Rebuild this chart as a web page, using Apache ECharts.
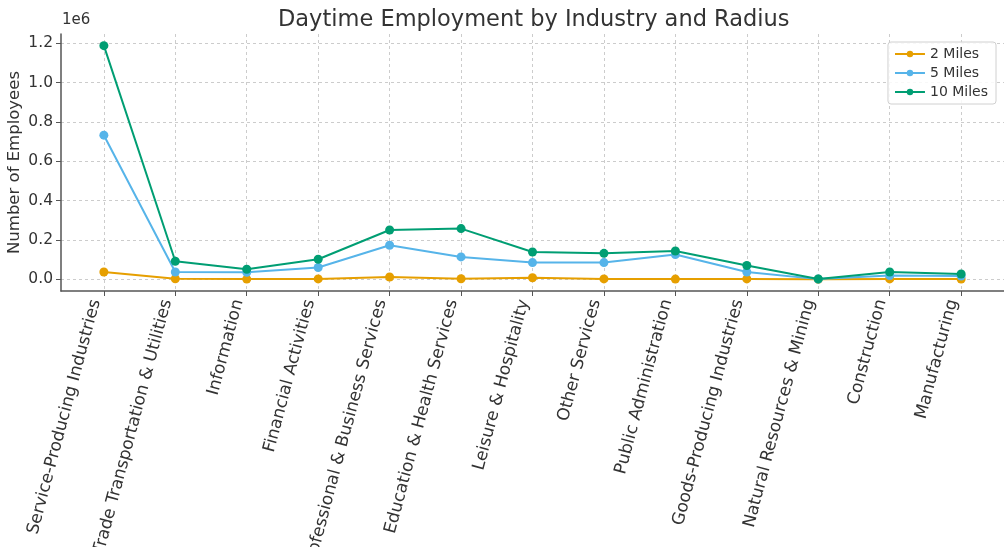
<!DOCTYPE html>
<html><head><meta charset="utf-8">
<script src="https://cdn.jsdelivr.net/npm/echarts@6/dist/echarts.min.js"></script>
<style>html,body{margin:0;padding:0;background:#fff}#c{width:1004px;height:547px}</style>
</head><body><div id="c"></div>
<script>
const categories = ["Service-Producing Industries","Trade Transportation & Utilities","Information","Financial Activities","Professional & Business Services","Education & Health Services","Leisure & Hospitality","Other Services","Public Administration","Goods-Producing Industries","Natural Resources & Mining","Construction","Manufacturing"];
const miles2  = [37000, 3000, 1000, 2000, 12000, 3000, 8000, 2000, 1000, 2000, 500, 2000, 1000];
const miles5  = [733000, 37000, 36000, 60000, 173000, 114000, 85000, 85000, 126000, 37000, 1000, 19000, 17000];
const miles10 = [1188000, 92000, 51000, 102000, 251000, 258000, 139000, 132000, 144000, 70000, 2000, 37000, 27000];
const seriesNames = ["2 Miles","5 Miles","10 Miles"];
const yTicks = [0, 200000, 400000, 600000, 800000, 1000000, 1200000];
const xTicks = categories.map((_, i) => i);

const colors = ["#E69F00", "#56B4E9", "#009E73"];
const font = "DejaVu Sans";
const allData = [miles2, miles5, miles10];

const chart = echarts.init(document.getElementById('c'), null, {renderer: 'canvas'});
chart.setOption({
  animation: false,
  backgroundColor: '#fff',
  color: colors,
  textStyle: {fontFamily: font},
  title: {
    text: 'Daytime Employment by Industry and Radius',
    left: 273, top: 4,
    textStyle: {fontFamily: font, fontSize: 22.5, fontWeight: 'normal', color: '#333'}
  },
  graphic: [{
    type: 'text', left: 62, top: 13,
    style: {text: '1e6', fontFamily: font, fontSize: 15, fill: '#333'}
  }],
  legend: {
    orient: 'vertical', right: 8, top: 42,
    data: seriesNames,
    itemWidth: 30, itemHeight: 8, itemGap: 5,
    padding: [5, 8, 5, 6],
    borderColor: '#d0d0d0', borderWidth: 1, borderRadius: 3,
    backgroundColor: 'rgba(255,255,255,0.85)',
    textStyle: {fontFamily: font, fontSize: 14, color: '#333'}
  },
  grid: {left: 61, right: 0, top: 34, bottom: 256, containLabel: false, outerBoundsMode: 'none'},
  xAxis: {
    type: 'value', min: -0.6, max: 12.6,
    axisLine: {show: true, onZero: false, lineStyle: {color: '#555', width: 1.5}},
    axisTick: {show: true, customValues: xTicks, length: 5, lineStyle: {color: '#555'}},
    axisLabel: {
      customValues: xTicks, rotate: 75, margin: 11, verticalAlign: 'bottom',
      fontFamily: font, fontSize: 17, color: '#333',
      formatter: v => categories[Math.round(v)]
    },
    splitLine: {show: true, lineStyle: {color: '#ccc', type: [3, 3], width: 1}}
  },
  yAxis: {
    type: 'value', min: -59400, max: 1247400,
    name: 'Number of Employees', nameLocation: 'middle', nameGap: 38, nameMoveOverlap: false,
    nameTextStyle: {fontFamily: font, fontSize: 16.5, color: '#333'},
    axisLine: {show: true, onZero: false, lineStyle: {color: '#555', width: 1.5}},
    axisTick: {show: true, customValues: yTicks, length: 5, lineStyle: {color: '#555'}},
    axisLabel: {
      customValues: yTicks, margin: 8,
      fontFamily: font, fontSize: 15.5, color: '#333',
      formatter: v => (v / 1e6).toFixed(1)
    },
    splitLine: {show: true, lineStyle: {color: '#ccc', type: [3, 3], width: 1}}
  },
  series: seriesNames.map((name, k) => ({
    name: name, type: 'line',
    data: allData[k].map((v, i) => [i, v]),
    symbol: 'circle', symbolSize: 9,
    lineStyle: {width: 2, color: colors[k]},
    itemStyle: {color: colors[k]},
    z: 2 + k
  }))
});
</script>
</body></html>
